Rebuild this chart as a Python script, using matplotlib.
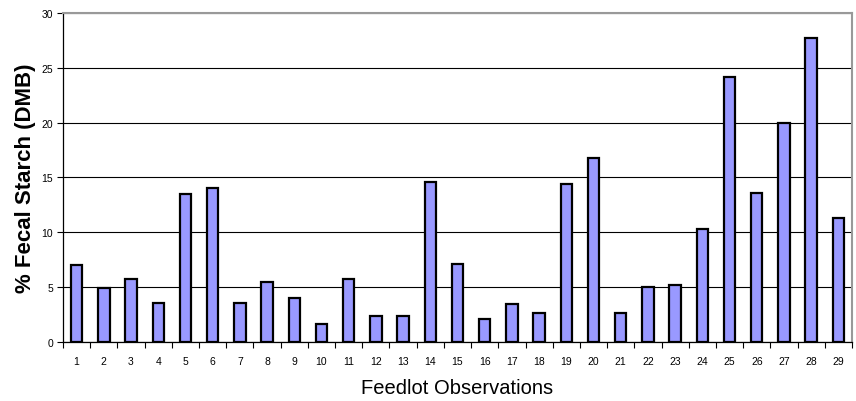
import numpy as np
import matplotlib.pyplot as plt
from matplotlib.ticker import FixedLocator

plt.rcParams['font.family'] = ['Liberation Sans', 'DejaVu Sans']

# ── Data ─────────────────────────────────────────────────────────────────────
observations = list(range(1, 30))
fecal_starch = [7.0, 4.9, 5.7, 3.6, 13.5, 14.0, 3.6, 5.5, 4.0, 1.6,
                5.7, 2.4, 2.4, 14.6, 7.1, 2.1, 3.5, 2.6, 14.4, 16.8,
                2.6, 5.0, 5.2, 10.3, 24.2, 13.55, 20.0, 27.75, 11.3]
y_ticks = [0, 5, 10, 15, 20, 25, 30]

# ── Plot ─────────────────────────────────────────────────────────────────────
fig = plt.figure(figsize=(8.56, 4.02), dpi=100)
ax = fig.add_axes([0.0736, 0.1468, 0.9217, 0.8184])

x = np.arange(len(observations)) + 1
ax.bar(x, fecal_starch, width=0.42, color='#9999FF', edgecolor='black',
       linewidth=1.6, zorder=3)

ax.set_xlim(0.5, len(observations) + 0.5)
ax.set_ylim(0, 30)
ax.set_yticks(y_ticks)
ax.grid(axis='y', color='black', linewidth=0.8, zorder=0)

ax.set_xticks(x)
ax.set_xticklabels([str(o) for o in observations])
ax.xaxis.set_minor_locator(FixedLocator(np.arange(0.5, len(observations) + 1, 1)))
ax.tick_params(axis='x', which='major', length=0, pad=10, labelsize=7.5)
ax.tick_params(axis='x', which='minor', length=4, width=0.8, direction='out')
ax.tick_params(axis='y', length=4, width=0.8, labelsize=7.5, pad=3)

for side in ('top', 'right'):
    ax.spines[side].set_color('#999999')
    ax.spines[side].set_linewidth(1.5)
for side in ('left', 'bottom'):
    ax.spines[side].set_color('black')
    ax.spines[side].set_linewidth(0.9)

ax.set_ylabel('% Fecal Starch (DMB)', fontsize=16, fontweight='bold', labelpad=4)
ax.set_xlabel('Feedlot Observations', fontsize=14.5, labelpad=9)

fig.savefig('out.png', dpi=100)
